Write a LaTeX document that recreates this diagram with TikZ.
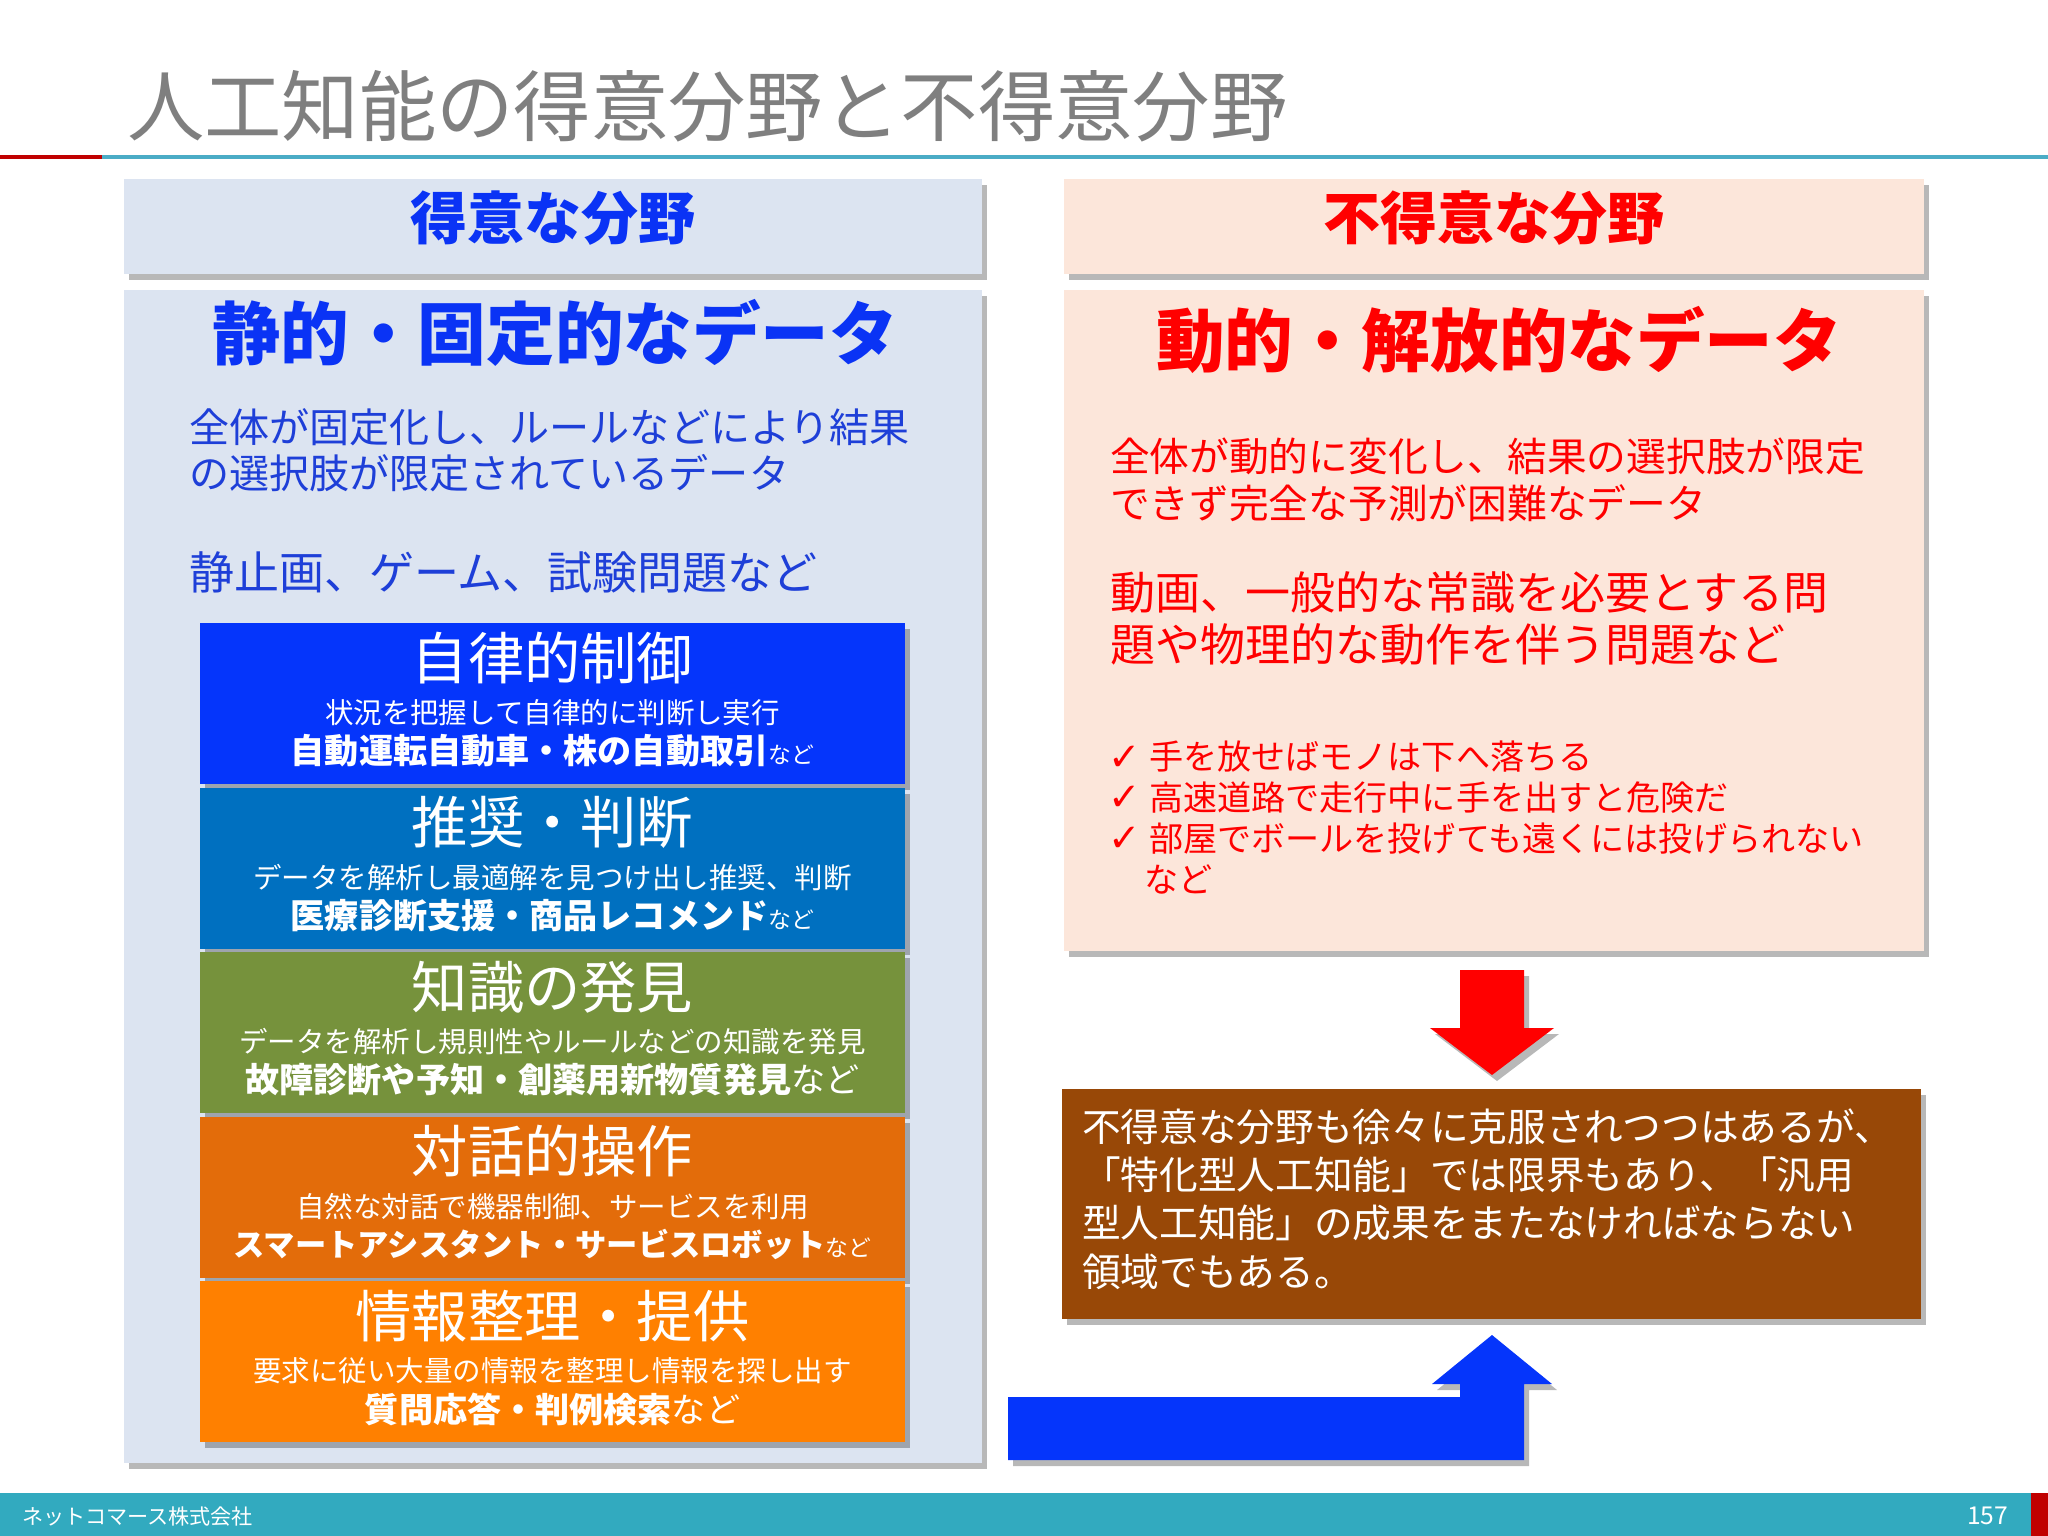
\documentclass[tikz,border=0pt]{standalone}
\usepackage{fontspec}
\setmainfont{Noto Sans CJK JP}
\newfontfamily\symfont{DejaVu Sans}
\usetikzlibrary{shadows}
\definecolor{titlegray}{HTML}{7F7F7F}
\definecolor{lineteal}{HTML}{4BACC6}
\definecolor{linered}{HTML}{C00000}
\definecolor{footteal}{HTML}{32AABF}
\definecolor{goodbg}{HTML}{DCE4F1}
\definecolor{badbg}{HTML}{FCE6DA}
\definecolor{goodblue}{HTML}{0A33F5}
\definecolor{textblue}{HTML}{1E3FD8}
\definecolor{badred}{HTML}{FF0000}
\definecolor{notebrown}{HTML}{984807}
\definecolor{blkA}{HTML}{0535FB}
\definecolor{blkB}{HTML}{0070C0}
\definecolor{blkC}{HTML}{76923C}
\definecolor{blkD}{HTML}{E36C0A}
\definecolor{blkE}{HTML}{FF8000}
\tikzset{
  shade box/.style={drop shadow={shadow xshift=.05cm,shadow yshift=-.06cm,
    fill=black,opacity=.28}},
  plain/.style={inner sep=0pt,outer sep=0pt},
  hdrtext/.style={plain,font=\bfseries\fontsize{16.2}{18}\selectfont},
  bigtext/.style={plain,font=\bfseries\fontsize{19.5}{22}\selectfont},
  bodytext/.style={plain,anchor=west,align=left},
  blktitle/.style={plain,text=white,font=\fontsize{16}{18}\selectfont},
  blksub/.style={plain,text=white,font=\fontsize{8.1}{9}\selectfont},
  checktext/.style={plain,anchor=west,text=badred,font=\fontsize{9.7}{11}\selectfont}
}
\begin{document}
\begin{tikzpicture}[x=.01cm,y=-.01cm]
  \useasboundingbox (0,0) rectangle (2048,1536);
  \fill[white] (0,0) rectangle (2048,1536);
  % title and rule
  \node[plain,anchor=west,text=titlegray,font=\fontsize{22}{26}\selectfont]
    (title) at (127,106) {人工知能の得意分野と不得意分野};
  \draw[linered,line width=1pt] (0,157)--(102,157);
  \draw[lineteal,line width=1.2pt] (102,157)--(2048,157);
  % headers
  \fill[goodbg,shade box] (124,179) rectangle (982,274);
  \fill[badbg,shade box] (1064,179) rectangle (1924,274);
  \node[hdrtext,text=goodblue] (goodhdr) at (553,218) {得意な分野};
  \node[hdrtext,text=badred] (badhdr) at (1494,218) {不得意な分野};
  % left panel
  \fill[goodbg,shade box] (124,290) rectangle (982,1463);
  \node[bigtext,text=goodblue] (goodttl) at (555,333) {静的・固定的なデータ};
  \node[bodytext,text=textblue,font=\fontsize{11.4}{13.1}\selectfont]
    (gooddesc) at (189,450) {全体が固定化し、ルールなどにより結果\\の選択肢が限定されているデータ};
  \node[bodytext,text=textblue,font=\fontsize{12.8}{14}\selectfont]
    (goodex) at (189,572) {静止画、ゲーム、試験問題など};
  \foreach \col/\ttl/\sub/\key/\ksz/\tail [count=\i from 0] in {
    blkA/自律的制御/状況を把握して自律的に判断し実行/自動運転自動車・株の自動取引/9.7/{\fontsize{6.5}{7}\selectfont など},
    blkB/推奨・判断/データを解析し最適解を見つけ出し推奨、判断/医療診断支援・商品レコメンド/9.7/{\fontsize{6.5}{7}\selectfont など},
    blkC/知識の発見/データを解析し規則性やルールなどの知識を発見/故障診断や予知・創薬用新物質発見/9.7/{など},
    blkD/対話的操作/自然な対話で機器制御、サービスを利用/スマートアシスタント・サービスロボット/8.9/{\fontsize{6.5}{7}\selectfont など},
    blkE/情報整理・提供/要求に従い大量の情報を整理し情報を探し出す/質問応答・判例検索/9.7/{など}}
  {
    \pgfmathsetmacro\ytop{623+164.5*\i}
    \fill[\col,shade box] (200,\ytop) rectangle ++(705,161);
    \node[blktitle] (blkttl\i) at (552.5,\ytop+35) {\ttl};
    \node[blksub] (blksub\i) at (552.5,\ytop+90) {\sub};
    \node[plain,text=white,font=\fontsize{\ksz}{\ksz}\selectfont]
      (blkkey\i) at (552.5,\ytop+128) {{\bfseries\key}\tail};
  }
  % right panel
  \fill[badbg,shade box] (1064,290) rectangle (1924,951);
  \node[bigtext,text=badred] (badttl) at (1499,340) {動的・解放的なデータ};
  \node[bodytext,text=badred,font=\fontsize{11.3}{13.4}\selectfont]
    (baddesc) at (1110,480) {全体が動的に変化し、結果の選択肢が限定\\できず完全な予測が困難なデータ};
  \node[bodytext,text=badred,font=\fontsize{12.8}{14.8}\selectfont]
    (badex) at (1110,618) {動画、一般的な常識を必要とする問\\題や物理的な動作を伴う問題など};
  \foreach \t [count=\i from 0] in {手を放せばモノは下へ落ちる,
    高速道路で走行中に手を出すと危険だ,部屋でボールを投げても遠くには投げられない}
  {
    \node[checktext,font=\symfont\fontsize{11}{12}\selectfont] (chk\i)
      at (1108,758+40.7*\i) {✓};
    \node[checktext] (chktxt\i) at (1149,757+40.7*\i) {\t};
  }
  \node[checktext] (chketc) at (1144,879) {など};
  % arrows and note
  \fill[badred,shade box] (1460,970)--(1524,970)--(1524,1028)--(1554,1028)
    --(1492,1075)--(1430,1028)--(1460,1028)--cycle;
  \fill[notebrown,shade box] (1062,1089) rectangle (1921,1319);
  \node[bodytext,text=white,font=\fontsize{11}{13.7}\selectfont] (note)
    at (1082,1199) {不得意な分野も徐々に克服されつつはあるが、\\「特化型人工知能」では限界もあり、「汎用\\型人工知能」の成果をまたなければならない\\領域でもある。};
  \fill[blkA,shade box] (1008,1397)--(1460,1397)--(1460,1384)--(1432,1384)
    --(1492,1335)--(1552,1384)--(1524,1384)--(1524,1460)--(1008,1460)--cycle;
  % footer
  \fill[footteal] (0,1493) rectangle (2031,1536);
  \fill[linered] (2031,1493) rectangle (2048,1536);
  \node[plain,anchor=west,text=white,font=\fontsize{6}{7}\selectfont]
    (company) at (22,1516) {ネットコマース株式会社};
  \node[plain,anchor=east,text=white,font=\fontsize{7}{8}\selectfont]
    (page) at (2008,1516) {157};
\end{tikzpicture}
\end{document}
